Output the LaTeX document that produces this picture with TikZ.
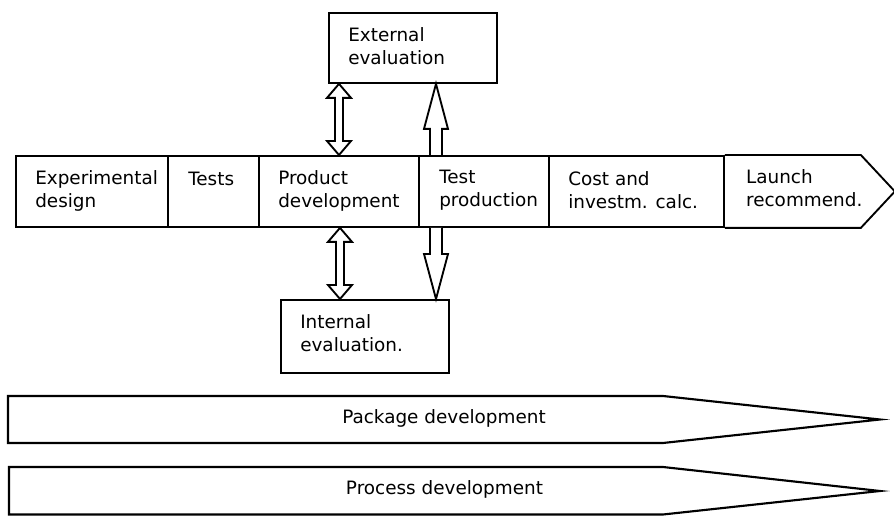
\documentclass[tikz,border=0pt]{standalone}
\usepackage{fontspec}
\setmainfont{DejaVu Sans}
\usetikzlibrary{calc}

\tikzset{
  box/.style={draw, line width=1.4pt, rectangle, inner sep=0pt, anchor=north west},
  lbl/.style={anchor=west, inner sep=0pt, align=left,
              font=\fontsize{13.8}{17.25}\selectfont},
  clbl/.style={inner sep=0pt, font=\fontsize{13.8}{17.25}\selectfont},
  fat/.style={draw, line width=1.4pt, fill=white, line join=miter},
  band/.style={draw, line width=1.6pt, line join=miter}
}

% hollow double-headed arrow between a top point and a bottom point
\newcommand\fatdouble[2]{%
  \path[fat] (#1) -- ($(#1)+(12,14)$) -- ($(#1)+(4,14)$) -- ($(#2)+(4,-14)$)
    -- ($(#2)+(12,-14)$) -- (#2) -- ($(#2)+(-12,-14)$) -- ($(#2)+(-4,-14)$)
    -- ($(#1)+(-4,14)$) -- ($(#1)+(-12,14)$) -- cycle;}
% hollow single arrow; #1 = tail centre, #2 = tip, #3 = +1 pointing down / -1 up
\newcommand\fatsingle[3]{%
  \path[fat] ($(#1)+(-6,0)$) -- ($(#2)+(-6,-45*#3)$) -- ($(#2)+(-12,-45*#3)$)
    -- (#2) -- ($(#2)+(12,-45*#3)$) -- ($(#2)+(6,-45*#3)$) -- ($(#1)+(6,0)$);}

\begin{document}
\begin{tikzpicture}[x=0.75pt, y=-0.75pt]
\useasboundingbox (0,0) rectangle (894,516);

% main process row
\node[box, minimum width=152*0.75pt, minimum height=71*0.75pt] (ed) at (15,155) {};
\node[box, minimum width=91*0.75pt,  minimum height=71*0.75pt] (ts) at (167,155) {};
\node[box, minimum width=160*0.75pt, minimum height=71*0.75pt] (pd) at (258,155) {};
\node[box, minimum width=130*0.75pt, minimum height=71*0.75pt] (tp) at (418,155) {};
\node[box, minimum width=175*0.75pt, minimum height=71*0.75pt] (cc) at (548,155) {};

% final pentagon
\coordinate (lnA) at ($(cc.north east)+(136,0)$);
\coordinate (lnTip) at ($(cc.east)+(170,0)$);
\coordinate (lnB) at ($(cc.south east)+(136,0)$);
\draw[line width=1.4pt, line join=miter] (cc.north east) -- (lnA) -- (lnTip) -- (lnB) -- (cc.south east);

% evaluation boxes
\node[box, minimum width=168*0.75pt, minimum height=70*0.75pt] (ext) at (328,12) {};
\node[box, minimum width=168*0.75pt, minimum height=73*0.75pt] (int) at (280,299) {};

% row labels
\node[lbl] (edT) at ($(ed.north west)+(20,35.5)$) {Experimental\\design};
\node[lbl] (tsT) at ($(ts.north west)+(21,24)$) {Tests};
\node[lbl] (pdT) at ($(pd.north west)+(20,35.5)$) {Product\\development};
\node[lbl] (tpT) at ($(tp.north west)+(21,35.5)$) {Test\\production};
\node[lbl] (ccT) at ($(cc.north west)+(20,35.5)$) {Cost and\\investm. calc.};
\node[lbl] (lnT) at ($(cc.north east)+(21,33.5)$) {Launch\\recommend.};
\node[lbl] (extT) at ($(ext.north west)+(20,34)$) {External\\evaluation};
\node[lbl] (intT) at ($(int.north west)+(20,34.5)$) {Internal\\evaluation.};

% connectors between the row and the evaluation boxes
\coordinate (d1t) at ($(ext.south west)+(11,0)$);
\coordinate (d1b) at (d1t |- pd.north);
\fatdouble{d1t}{d1b}
\coordinate (d2t) at ($(pd.south west)+(82,0)$);
\coordinate (d2b) at (d2t |- int.north);
\fatdouble{d2t}{d2b}
\coordinate (u1b) at ($(tp.north west)+(18,0)$);
\coordinate (u1t) at (u1b |- ext.south);
\fatsingle{u1b}{u1t}{-1}
\coordinate (s1t) at ($(tp.south west)+(18,0)$);
\coordinate (s1b) at (s1t |- int.north);
\fatsingle{s1t}{s1b}{1}

% parallel development bands
\draw[band] (8,396) -- (663,396) -- (880,419.5) -- (663,443) -- (8,443) -- cycle;
\node[clbl] (pkg) at (444,418) {Package development};
\draw[band] (9,467) -- (663,467) -- (880,491) -- (663,514.5) -- (9,514.5) -- cycle;
\node[clbl] (prc) at (444.5,489) {Process development};
\end{tikzpicture}
\end{document}
